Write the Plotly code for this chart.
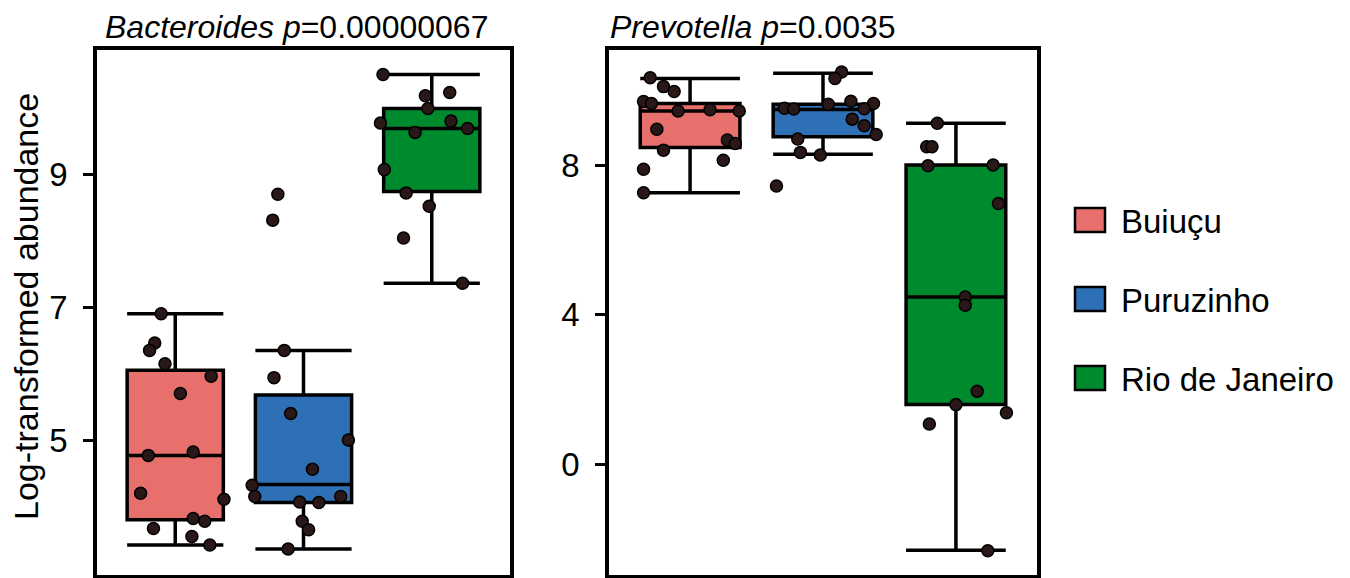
import plotly.graph_objects as go

# groups and box statistics
groups = ["Buiuçu", "Puruzinho", "Rio de Janeiro"]

bact_lower = [3.42, 3.36, 7.36]
bact_q1 = [3.80, 4.06, 8.74]
bact_median = [4.77, 4.33, 9.69]
bact_q3 = [6.05, 5.68, 9.99]
bact_upper = [6.90, 6.35, 10.50]

prev_lower = [7.26, 8.29, -2.31]
prev_q1 = [8.47, 8.76, 1.59]
prev_median = [9.45, 9.49, 4.47]
prev_q3 = [9.65, 9.63, 8.00]
prev_upper = [10.32, 10.46, 9.12]

# individual samples (values) and their horizontal jitter
bact_buiucu = [6.90, 6.46, 6.35, 6.15, 5.96, 5.70, 4.77, 4.82, 4.20, 4.11, 3.82, 3.78, 3.67, 3.55, 3.42]
bact_buiucu_jit = [-0.11, -0.16, -0.20, -0.08, 0.28, 0.04, -0.21, 0.14, -0.27, 0.38, 0.14, 0.23, -0.17, 0.13, 0.27]
bact_puru = [8.70, 8.31, 6.35, 5.94, 5.40, 5.00, 4.56, 4.32, 4.15, 4.07, 4.06, 4.15, 3.78, 3.65, 3.36]
bact_puru_jit = [-0.20, -0.24, -0.15, -0.23, -0.10, 0.35, 0.07, -0.40, -0.38, -0.03, 0.12, 0.29, -0.01, 0.04, -0.12]
bact_rio = [10.50, 10.23, 10.18, 9.99, 9.77, 9.80, 9.69, 9.63, 9.07, 8.72, 8.52, 8.04, 7.36]
bact_rio_jit = [-0.38, 0.14, -0.05, -0.03, -0.40, 0.15, 0.28, -0.13, -0.37, -0.20, -0.02, -0.22, 0.24]

prev_buiucu = [10.34, 10.10, 9.97, 9.70, 9.65, 9.45, 9.48, 9.45, 8.96, 8.67, 8.58, 8.40, 8.13, 7.89, 7.26]
prev_buiucu_jit = [-0.30, -0.20, -0.12, -0.35, -0.29, -0.09, 0.15, 0.37, -0.25, 0.28, 0.34, -0.20, 0.25, -0.35, -0.35]
prev_puru = [10.49, 10.32, 9.71, 9.65, 9.52, 9.50, 9.63, 9.51, 9.23, 9.05, 8.82, 8.70, 8.34, 8.27, 7.44]
prev_puru_jit = [0.14, 0.09, 0.21, 0.38, -0.29, -0.22, 0.04, 0.31, 0.22, 0.31, 0.40, -0.19, -0.17, -0.02, -0.35]
prev_rio = [9.12, 8.49, 8.49, 7.98, 8.00, 6.97, 4.47, 4.25, 1.95, 1.59, 1.37, 1.07, -2.32]
prev_rio_jit = [-0.14, -0.22, -0.18, -0.21, 0.28, 0.32, 0.07, 0.07, 0.16, 0.00, 0.38, -0.20, 0.24]

bact_title = "<i>Bacteroides</i> <i>p</i>=0.00000067"
prev_title = "<i>Prevotella</i> <i>p</i>=0.0035"
y_title = "Log-transformed abundance"

colors = ["#E8706C", "#2E70B6", "#008A2E"]
# the page body adds an 8px margin, so the figure is drawn 8px smaller
OFF = 8
W, H = 1350 - OFF, 578 - OFF
FONT = "Liberation Sans, Arial, sans-serif"


def px(x):
    return (x - OFF) / W


def py(y):
    return 1 - (y - OFF) / H


fig = go.Figure()

panels = [
    ("x", "y", bact_lower, bact_q1, bact_median, bact_q3, bact_upper,
     [(bact_buiucu, bact_buiucu_jit), (bact_puru, bact_puru_jit), (bact_rio, bact_rio_jit)]),
    ("x2", "y2", prev_lower, prev_q1, prev_median, prev_q3, prev_upper,
     [(prev_buiucu, prev_buiucu_jit), (prev_puru, prev_puru_jit), (prev_rio, prev_rio_jit)]),
]

for xa, ya, lo, q1, med, q3, up, pts in panels:
    for i, name in enumerate(groups):
        fig.add_trace(go.Box(
            x=[i], q1=[q1[i]], median=[med[i]], q3=[q3[i]],
            lowerfence=[lo[i]], upperfence=[up[i]],
            width=0.75, whiskerwidth=1, fillcolor=colors[i],
            line=dict(color="black", width=3.5), name=name,
            boxpoints=False, showlegend=False, xaxis=xa, yaxis=ya,
        ))
    for i, (vals, jit) in enumerate(pts):
        fig.add_trace(go.Scatter(
            x=[i + j for j in jit], y=vals, mode="markers",
            marker=dict(size=12, color="#2a1818", line=dict(color="#000000", width=1.5)),
            showlegend=False, xaxis=xa, yaxis=ya, hoverinfo="y",
        ))

axis_common = dict(
    showline=True, linewidth=3.5, linecolor="black", mirror=True,
    showgrid=False, zeroline=False,
)
fig.update_layout(
    width=W, height=H, autosize=False,
    margin=dict(l=0, r=0, t=0, b=0),
    paper_bgcolor="white", plot_bgcolor="white",
    boxmode="overlay",
    font=dict(family=FONT, size=33, color="black"),
    xaxis=dict(domain=[px(97), px(510)], range=[-0.61, 2.61], showticklabels=False,
               ticks="", **axis_common),
    xaxis2=dict(domain=[px(609), px(1037)], range=[-0.61, 2.61], showticklabels=False,
                ticks="", **axis_common),
    yaxis=dict(domain=[py(575), py(50)], range=[2.97, 10.87], tickvals=[5, 7, 9],
               ticks="outside", ticklen=10, tickwidth=3, tickcolor="black",
               ticklabelstandoff=9, tickfont=dict(size=33), **axis_common),
    yaxis2=dict(domain=[py(575), py(50)], range=[-2.97, 11.08], tickvals=[0, 4, 8],
                ticks="outside", ticklen=10, tickwidth=3, tickcolor="black",
                ticklabelstandoff=9, tickfont=dict(size=33), anchor="x2", **axis_common),
)

# titles sit right under the top edge of the page, kept fully inside it
annotations = [
    dict(text=bact_title, x=px(104), y=1, xanchor="left", yanchor="top", size=32, borderpad=0),
    dict(text=prev_title, x=px(609), y=1, xanchor="left", yanchor="top", size=32, borderpad=0),
    dict(text=y_title, x=px(26), y=py(307), textangle=-90, xanchor="center", yanchor="middle", size=34),
]

# legend drawn by hand so the swatches match the reference size
shapes = []
legend_y = [220, 299, 378]
for name, col, ly in zip(groups, colors, legend_y):
    shapes.append(dict(type="rect", xref="paper", yref="paper",
                       x0=px(1075), x1=px(1105), y0=py(ly + 12), y1=py(ly - 12),
                       fillcolor=col, line=dict(color="black", width=2.5)))
    annotations.append(dict(text=name, x=px(1119), y=py(ly + 1), xanchor="left", yanchor="middle", size=33))

for a in annotations:
    size = a.pop("size")
    a.update(xref="paper", yref="paper", showarrow=False, font=dict(family=FONT, size=size, color="black"))

fig.update_layout(annotations=annotations, shapes=shapes)

fig.write_html("out.html")
